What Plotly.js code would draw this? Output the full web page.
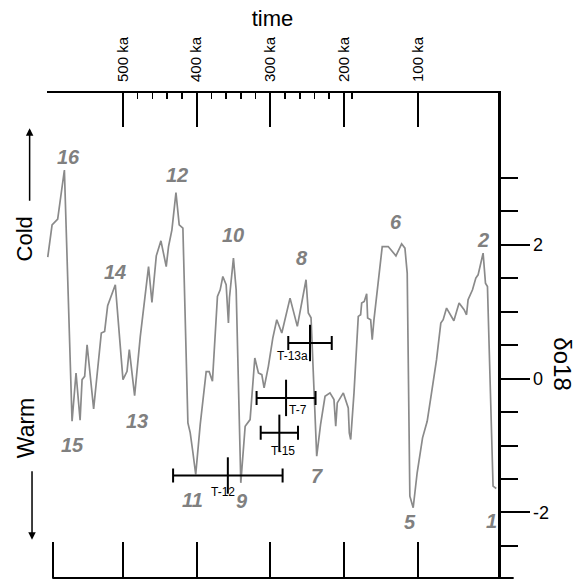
<!DOCTYPE html>
<html>
<head>
<meta charset="utf-8">
<script src="https://cdn.plot.ly/plotly-3.0.1.min.js"></script>
<style>html,body{margin:0;padding:0;background:#fff;}#chart{width:584px;height:580px;}</style>
</head>
<body>
<div id="chart"></div>
<script>
// Oxygen isotope curve: age (ka) and delta-O18 values
const ageKa = [602.0,596.1,588.5,579.4,569.0,563.6,558.1,555.4,551.9,548.6,539.7,529.3,524.8,520.7,510.3,499.9,494.4,491.3,484.1,476.4,465.2,460.6,454.7,448.4,441.2,438.1,433.5,428.0,423.6,418.6,411.8,408.7,405.0,401.2,395.1,387.0,382.9,378.5,371.7,368.0,364.4,359.9,356.8,355.4,350.0,346.3,340.0,334.1,327.4,324.7,321.0,316.1,311.5,308.4,302.6,296.6,291.2,284.4,278.6,273.2,263.3,257.3,251.5,248.4,244.7,237.0,231.8,225.7,219.0,213.6,211.2,209.1,200.9,194.2,192.8,190.9,186.4,180.6,177.4,176.0,172.5,169.2,167.9,163.8,161.7,159.3,153.5,148.1,140.0,129.5,121.8,117.3,114.2,110.6,106.1,100.7,93.4,87.1,81.2,74.4,68.6,65.4,60.8,50.9,43.8,37.0,33.7,31.6,25.6,21.1,18.0,11.2,8.0,5.3,-2.3,-6.6];
const d18O = [1.816,2.299,2.384,3.119,-0.637,0.085,-0.622,-0.015,0.034,0.507,-0.452,0.682,0.706,1.090,1.403,-0.015,0.109,0.433,-0.254,0.631,1.676,1.139,1.836,2.060,1.676,1.975,2.224,2.781,2.299,2.249,-0.661,-0.806,-1.104,-1.433,-0.687,0.104,0.104,-0.040,1.228,1.328,1.527,1.403,0.831,1.209,1.801,1.328,-1.557,-0.712,-0.612,-0.164,0.309,0.085,0.060,-0.139,0.184,0.607,0.881,0.682,0.955,1.204,0.781,1.130,1.478,0.981,0.910,-1.160,-0.687,-0.264,-0.213,-0.313,-0.712,-0.363,-0.213,-0.437,-0.810,-0.910,-0.213,0.930,0.955,1.130,1.154,1.269,0.906,0.881,0.582,0.881,1.428,1.975,1.975,1.836,2.015,1.951,1.578,-1.757,-1.930,-1.407,-0.885,-0.637,-0.213,0.284,0.831,0.881,1.055,0.866,1.130,1.030,0.955,1.179,1.328,1.503,1.552,1.876,1.428,1.378,-1.607,-1.642];

// Marine isotope stage numbers
const stageText = ['16','15','14','13','12','11','10','9','8','7','6','5','2','1'];
const stageAge  = [573.6,569.0,510.3,480.9,426.7,405.0,350.0,339.0,257.3,237.0,129.5,110.6,11.2,-0.1];
const stageVal  = [3.32,-0.99,1.60,-0.64,3.05,-1.81,2.15,-1.83,1.80,-1.46,2.34,-2.15,2.08,-2.13];

// Dated samples with age uncertainty
const sampleName = ['T-13a','T-7','T-15','T-12'];
const sampleAge  = [246.1,278.6,287.7,357.6];
const sampleErr  = [29.5,40.0,25.3,74.3];
const sampleVal  = [0.533,-0.288,-0.810,-1.448];
const sampleLabAge = [270.0,262.0,283.0,364.0];
const sampleLabVal = [0.34,-0.47,-1.08,-1.70];

// Axis ticks
const timeTicks = [500,400,300,200,100];
const timeTickText = ['500 ka','400 ka','300 ka','200 ka','100 ka'];
const timeMinor = [480,460,440,420,380,360,340,320,280,260,240,220,189];
const bottomTicks = [595,500,400,300,200,100];
const isoTicks = [2,0,-2];
const isoMinor = [3,2.5,1.5,1,0.5,-0.5,-1,-1.5,-2.5];

const FONT = 'Liberation Sans, Arial, Helvetica, sans-serif';
const X0 = 46.7, PW = 451.6, YB = 578.3, PH = 485.6;
const px = x => (x - X0) / PW;
const py = y => (YB - y) / PH;

const traces = [{
  x: ageKa, y: d18O, type: 'scatter', mode: 'lines',
  line: {color: '#8a8a8a', width: 1.7}, xaxis: 'x', yaxis: 'y', hoverinfo: 'skip'
}, {
  x: sampleAge, y: sampleVal, type: 'scatter', mode: 'markers',
  xaxis: 'x2', yaxis: 'y',
  marker: {symbol: 'line-ns', size: 26, color: '#000', line: {color: '#000', width: 2}},
  error_x: {type: 'data', array: sampleErr, color: '#000', thickness: 2, width: 7},
  hoverinfo: 'skip'
}];

const annotations = [];
stageText.forEach((t, i) => annotations.push({
  x: stageAge[i], y: stageVal[i], xref: 'x', yref: 'y', text: t, showarrow: false,
  xanchor: 'center', yanchor: 'middle',
  font: {family: FONT, size: 20, color: '#808080', weight: 'bold', style: 'italic'}
}));
sampleName.forEach((t, i) => annotations.push({
  x: sampleLabAge[i], y: sampleLabVal[i], xref: 'x', yref: 'y', text: t, showarrow: false,
  xanchor: 'center', yanchor: 'middle',
  font: {family: FONT, size: 12, color: '#000'}
}));
annotations.push(
  {x: px(562), y: py(364), xref: 'paper', yref: 'paper', text: 'δo18', textangle: 90, showarrow: false,
   xanchor: 'center', yanchor: 'middle', font: {family: FONT, size: 24, color: '#000'}},
  {x: px(24), y: py(239), xref: 'paper', yref: 'paper', text: 'Cold', textangle: -90, showarrow: false,
   xanchor: 'center', yanchor: 'middle', font: {family: FONT, size: 22, color: '#000'}},
  {x: px(26), y: py(428), xref: 'paper', yref: 'paper', text: 'Warm', textangle: -90, showarrow: false,
   xanchor: 'center', yanchor: 'middle', font: {family: FONT, size: 23, color: '#000'}},
  {x: px(29.3), y: py(128), xref: 'paper', yref: 'paper', text: '', showarrow: true, ax: 0, ay: 74,
   arrowhead: 2, arrowsize: 1, arrowwidth: 1.5, arrowcolor: '#000'},
  {x: px(31.7), y: py(540), xref: 'paper', yref: 'paper', text: '', showarrow: true, ax: 0, ay: -70,
   arrowhead: 2, arrowsize: 1, arrowwidth: 1.5, arrowcolor: '#000'}
);

const layout = {
  width: 584, height: 580,
  margin: {l: 47, r: 86, t: 93, b: 2, pad: 0},
  paper_bgcolor: '#fff', plot_bgcolor: '#fff',
  showlegend: false,
  font: {family: FONT, color: '#000'},
  xaxis: {
    side: 'top', range: [603, -9], showgrid: false, zeroline: false,
    showline: true, linecolor: '#000', linewidth: 2,
    tickmode: 'array', tickvals: [602.5].concat(timeTicks), ticktext: [''].concat(timeTickText),
    ticks: 'inside', ticklen: 34, tickwidth: 2, tickcolor: '#000',
    tickangle: -90, tickfont: {family: FONT, size: 15, color: '#000'}, ticklabelstandoff: 6,
    minor: {tickmode: 'array', tickvals: timeMinor, ticks: 'inside', ticklen: 6, tickwidth: 1.5, tickcolor: '#000', showgrid: false},
    title: {text: 'time', font: {family: FONT, size: 22, color: '#000'}, standoff: 4},
    automargin: false, fixedrange: true
  },
  xaxis2: {
    overlaying: 'x', matches: 'x', side: 'bottom', anchor: 'y',
    showgrid: false, zeroline: false, showline: false,
    tickmode: 'array', tickvals: bottomTicks, showticklabels: false,
    ticks: 'inside', ticklen: 36, tickwidth: 2, tickcolor: '#000', automargin: false
  },
  yaxis: {
    side: 'right', range: [-2.98, 4.27], showgrid: false, zeroline: false,
    showline: true, linecolor: '#000', linewidth: 2.5,
    tickmode: 'array', tickvals: isoTicks, ticktext: ['2','0','-2'],
    ticks: 'outside', ticklen: 29, tickwidth: 2, tickcolor: '#000',
    tickfont: {family: FONT, size: 18, color: '#000'},
    minor: {tickmode: 'array', tickvals: isoMinor, ticks: 'outside', ticklen: 17, tickwidth: 2, tickcolor: '#000', showgrid: false},
    automargin: false, fixedrange: true
  },
  shapes: [{
    type: 'line', xref: 'paper', yref: 'paper', x0: px(52), x1: px(514), y0: py(578.3), y1: py(578.3),
    line: {color: '#000', width: 2}
  }],
  annotations: annotations
};

Plotly.newPlot('chart', traces, layout, {staticPlot: true, displayModeBar: false});
</script>
</body>
</html>
